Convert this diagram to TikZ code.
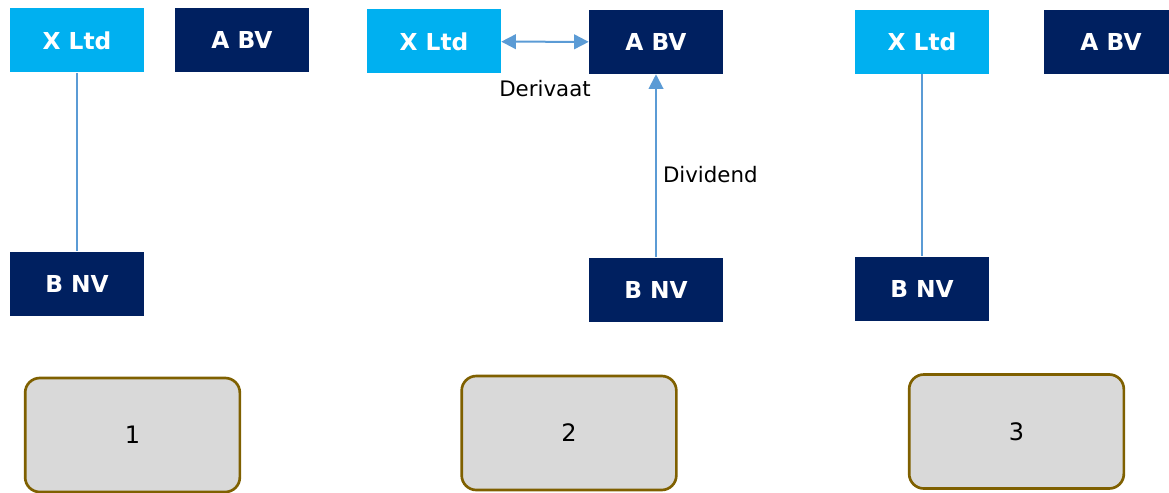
\documentclass[tikz,border=0pt]{standalone}
\usepackage{fontspec}
\setmainfont{DejaVu Sans}
\usetikzlibrary{arrows.meta}

\definecolor{ltdblue}{HTML}{00B0F0}
\definecolor{bvnavy}{HTML}{002060}
\definecolor{linkblue}{HTML}{5B9BD5}
\definecolor{stagegray}{HTML}{D9D9D9}
\definecolor{stagebrown}{HTML}{7F6000}

\begin{document}
\begin{tikzpicture}[x=0.75pt, y=-0.75pt,
		entity/.style={minimum width=100.5pt, minimum height=48pt, inner sep=0pt, text=white, font=\fontsize{17.5}{20}\selectfont\bfseries},
		ltd/.style={entity, fill=ltdblue},
		bv/.style={entity, fill=bvnavy},
		link/.style={draw=linkblue, line width=1.5pt},
		flow/.style={link, -{Triangle[length=11pt,width=11pt]}},
		twoway/.style={link, {Triangle[length=11pt,width=11pt]}-{Triangle[length=11pt,width=11pt]}},
		note/.style={inner sep=0pt, font=\fontsize{16}{19}\selectfont},
		stage/.style={rounded corners=11pt, draw=stagebrown, fill=stagegray, line width=2pt, minimum width=161pt, minimum height=85.5pt, font=\fontsize{18}{21}\selectfont}]
	
	\useasboundingbox (0,0) rectangle (1169,492);
	\clip (0,0) rectangle (1169,492);
	
	% situation 1
	\node [ltd] (x1) at (77,40.5) {X Ltd};
	\node [bv] (a1) at (242,40) {A BV};
	\node [bv] (b1) at (77,283.5) {B NV};
	\draw [link] (x1) -- (b1);
	
	% situation 2
	\node [ltd] (x2) at (434,41.5) {X Ltd};
	\node [bv] (a2) at (656,42) {A BV};
	\node [bv] (b2) at (656,289.5) {B NV};
	\draw [twoway] (x2) -- (a2) node [note, midway, below=28pt] {Derivaat};
	\draw [flow] (b2) -- (a2) node [note, midway, right=4.5pt, yshift=-6.5pt] {Dividend};
	
	% situation 3
	\node [ltd] (x3) at (922,42) {X Ltd};
	\node [bv] (a3) at (1111,42) {A BV};
	\node [bv] (b3) at (922,288.5) {B NV};
	\draw [link] (x3) -- (b3);
	
	% stages
	\node [stage] (s1) at (132.5,435) {1};
	\node [stage] (s2) at (569,433) {2};
	\node [stage] (s3) at (1016.5,431.5) {3};
\end{tikzpicture}
\end{document}
